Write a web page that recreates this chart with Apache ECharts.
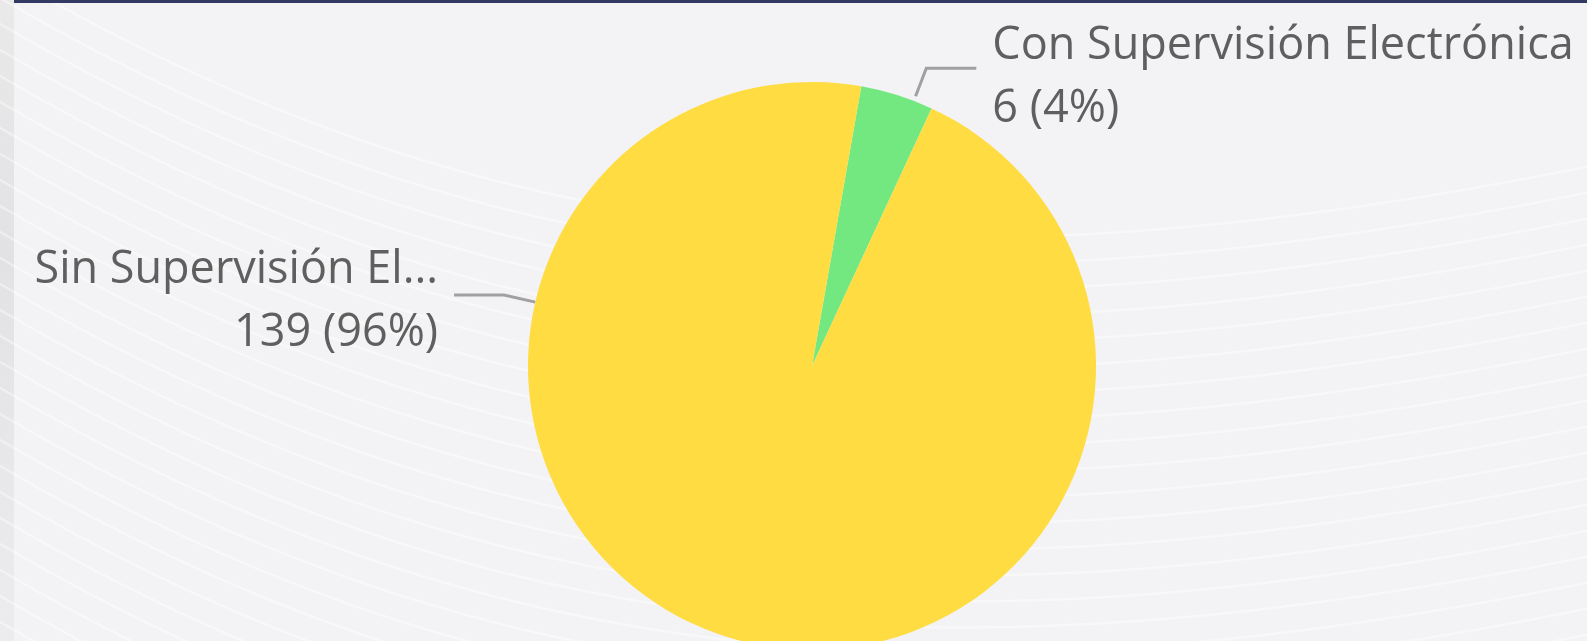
<!DOCTYPE html>
<html>
<head>
<meta charset="utf-8">
<script src="https://cdn.jsdelivr.net/npm/echarts@6/dist/echarts.min.js"></script>
<style>
  html, body { margin: 0; padding: 0; width: 100%; height: 100%; overflow: hidden; background: #f3f3f5; }
  #side { position: absolute; left: 0; top: 0; width: 14px; height: 100%; background: linear-gradient(#e9e9ea, #e2e2e4 40%, #ececee); }
  #topbar { position: absolute; left: 14px; right: 0; top: 0; height: 3px; background: #313a62; }
  #chart { position: absolute; left: 0; top: 0; width: 1587px; height: 641px; }
</style>
</head>
<body>
<div id="side"></div>
<div id="chart"></div>
<div id="topbar"></div>
<script>
const categories = ['Con Supervisión Electrónica', 'Sin Supervisión Electrónica']
const counts = [6, 139]
const colors = ['#73e880', '#ffdc41']
// how many characters of each name fit before the label gets cut
const labelMaxChars = [40, 18]

const CX = 812
const CY = 366
const R = 284

// leader lines: angle clockwise from 12 o'clock, gap off the pie, radial and flat lengths
const leaders = [
  { angle: 21, gap: 5, len1: 30, len2: 50, side: 1, dy: 9 },
  { angle: 283, gap: 0, len1: 32, len2: 50, side: -1, dy: 7 },
]

// faint white swooshes behind the chart
const swooshes = []
for (let i = 0; i < 28; i++) {
  const y0 = -40 + i * 26
  swooshes.push({
    type: 'bezierCurve',
    silent: true,
    z: -10,
    shape: {
      x1: -20, y1: y0,
      cpx1: 480, cpy1: y0 + 300,
      cpx2: 950, cpy2: y0 + 340,
      x2: 1620, y2: y0 + 200,
    },
    style: { stroke: '#ffffff', lineWidth: 2.5, opacity: 0.4, fill: null },
  })
}

const chart = echarts.init(document.getElementById('chart'))

chart.setOption({
  backgroundColor: 'transparent',
  animation: false,
  graphic: swooshes,
  series: [
    {
      type: 'pie',
      center: [CX, CY],
      radius: R,
      startAngle: 80,
      clockwise: true,
      percentPrecision: 0,
      data: categories.map((name, i) => ({
        name,
        value: counts[i],
        itemStyle: { color: colors[i] },
      })),
      label: {
        show: true,
        position: 'outside',
        color: '#5f5f5f',
        fontFamily: '"Segoe UI", "Open Sans", sans-serif',
        fontSize: 45,
        lineHeight: 63,
        formatter: (p) => {
          const max = labelMaxChars[p.dataIndex]
          const name = p.name.length > max ? p.name.slice(0, max) + '...' : p.name
          return name + '\n' + p.value + ' (' + p.percent + '%)'
        },
      },
      labelLine: {
        show: true,
        lineStyle: { color: '#a0a0a0', width: 3 },
      },
      labelLayout: (params) => {
        const l = leaders[params.dataIndex]
        const a = (l.angle * Math.PI) / 180
        const dx = Math.sin(a)
        const dy = -Math.cos(a)
        const p0 = [CX + (R + l.gap) * dx, CY + (R + l.gap) * dy]
        const p1 = [p0[0] + l.len1 * dx, p0[1] + l.len1 * dy]
        const p2 = [p1[0] + l.side * l.len2, p1[1]]
        return {
          x: p2[0] + l.side * 16,
          y: p2[1] + l.dy,
          align: l.side > 0 ? 'left' : 'right',
          verticalAlign: 'middle',
          labelLinePoints: [p0, p1, p2],
        }
      },
      emphasis: { disabled: true },
    },
  ],
})
</script>
</body>
</html>
